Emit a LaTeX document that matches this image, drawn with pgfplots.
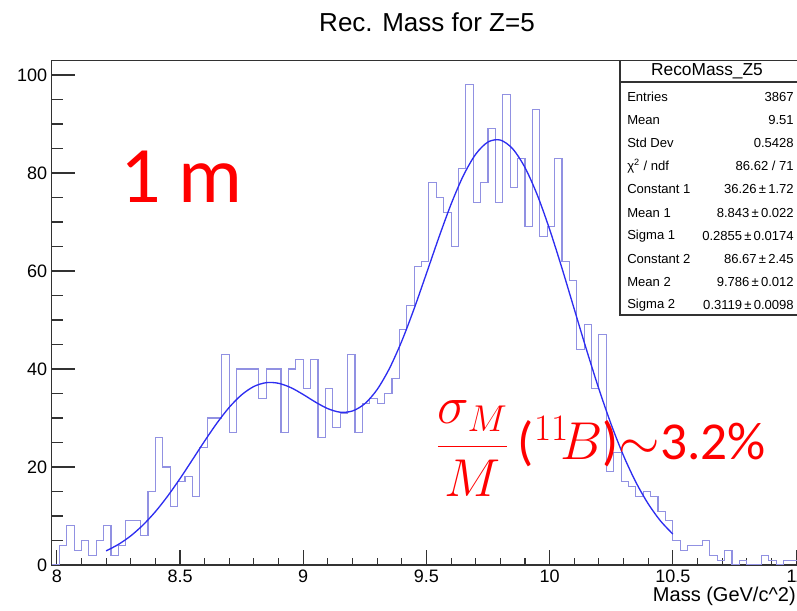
\documentclass[border=0pt]{standalone}
\usepackage{fix-cm}
\usepackage{amsmath}
\usepackage{fontspec}
\setmainfont{Liberation Sans}
\newfontfamily\calibri{Carlito}
\usepackage{pgfplots}
\pgfplotsset{compat=1.18}
\definecolor{histc}{RGB}{145,145,226}
\definecolor{fitc}{RGB}{45,45,240}
\definecolor{framec}{RGB}{50,50,50}
\begin{document}
\begin{tikzpicture}
\begin{axis}[
  scale only axis, width=565.5pt, height=378.15pt,
  xmin=7.98, xmax=11.04, ymin=0, ymax=102.9,
  axis line style={framec, line width=0.8pt},
  tick align=inside,
  xtick={8,8.5,9,9.5,10,10.5,11}, xticklabels={8,8.5,9,9.5,10,10.5,11},
  minor x tick num=4,
  ytick={0,20,40,60,80,100}, minor y tick num=3,
  xtick pos=left, ytick pos=left,
  xtick style={framec, line width=0.8pt, /pgfplots/major tick length=11.25pt, /pgfplots/minor tick length=5.6pt},
  ytick style={framec, line width=0.8pt, /pgfplots/major tick length=17pt, /pgfplots/minor tick length=8.5pt},
  tick label style={font=\fontsize{13.5}{15}\selectfont},
  /pgf/number format/assume math mode=true,
]
\addplot[const plot, histc, line width=0.85pt] coordinates {
(7.98,0) (8.01,4) (8.04,8) (8.07,3) (8.10,5) (8.13,2) (8.16,5) (8.19,8) (8.22,2) (8.25,4)
(8.28,9) (8.31,9) (8.34,6) (8.37,15) (8.40,26) (8.43,20) (8.46,12) (8.49,17) (8.52,18) (8.55,14)
(8.58,24) (8.61,30) (8.64,30) (8.67,43) (8.70,27) (8.73,40) (8.76,40) (8.79,40) (8.82,34) (8.85,40)
(8.88,40) (8.91,27) (8.94,40) (8.97,42) (9.00,36) (9.03,42) (9.06,26) (9.09,36) (9.12,28) (9.15,31)
(9.18,43) (9.21,27) (9.24,33) (9.27,34) (9.30,33) (9.33,35) (9.36,38) (9.39,48) (9.42,53) (9.45,61)
(9.48,62) (9.51,78) (9.54,75) (9.57,72) (9.60,65) (9.63,81) (9.66,98) (9.69,74) (9.72,78) (9.75,89)
(9.78,74) (9.81,96) (9.84,77) (9.87,83) (9.90,69) (9.93,93) (9.96,67) (9.99,69) (10.02,83) (10.05,62)
(10.08,58) (10.11,44) (10.14,49) (10.17,36) (10.20,47) (10.23,19) (10.26,23) (10.29,17) (10.32,16) (10.35,14)
(10.38,15) (10.41,14) (10.44,11) (10.47,9) (10.50,5) (10.53,3) (10.56,4) (10.59,4) (10.62,5) (10.65,2)
(10.68,1) (10.71,3) (10.74,0) (10.77,1) (10.80,0) (10.83,0) (10.86,2) (10.89,1) (10.92,0) (10.95,1)
(10.98,1) (11.01,0) (11.04,0)
};
\addplot[smooth, fitc, line width=1.0pt] coordinates {
(8.20,2.87) (8.25,4.20) (8.30,5.94) (8.35,8.17) (8.40,10.88) (8.45,14.07) (8.50,17.64) (8.55,21.45)
(8.60,25.31) (8.65,28.97) (8.70,32.19) (8.75,34.73) (8.80,36.44) (8.85,37.21) (8.90,37.08) (8.95,36.19)
(9.00,34.79) (9.05,33.23) (9.10,31.90) (9.15,31.18) (9.20,31.43) (9.25,32.92) (9.30,35.81) (9.35,40.12)
(9.40,45.70) (9.45,52.30) (9.50,59.49) (9.55,66.78) (9.60,73.63) (9.65,79.48) (9.70,83.84) (9.75,86.33)
(9.80,86.72) (9.85,84.94) (9.90,81.11) (9.95,75.50) (10.00,68.49) (10.05,60.58) (10.10,52.21) (10.15,43.87)
(10.20,35.91) (10.25,28.66) (10.30,22.29) (10.35,16.90) (10.40,12.49) (10.45,8.99) (10.50,6.31)
};
\coordinate (bbSW) at (axis cs:7.76936,-9.3878);
\coordinate (bbNE) at (axis cs:11.00393,115.3061);
\end{axis}
\begin{scope}[shift={(bbSW)}, x=0.75pt, y=0.75pt]
% stats box
\draw[framec, line width=0.8pt, fill=white] (620,296) rectangle (805,550.2);
\draw[framec, line width=0.8pt] (620,529) -- (805,529);
\node[anchor=center, inner sep=0] at (707,539.3) {\fontsize{13}{15}\selectfont RecoMass\_Z5};
\begin{scope}[every node/.style={inner sep=0, font=\fontsize{9.8}{11}\selectfont}]
\node[anchor=west] at (627,514.3) {Entries};      \node[anchor=east] at (794,514.3) {3867};
\node[anchor=west] at (627,491.1) {Mean};         \node[anchor=east] at (794,491.1) {9.51};
\node[anchor=west] at (627,467.9) {Std Dev};      \node[anchor=east] at (794,467.9) {0.5428};
\node[anchor=west] at (627,444.7) {χ\textsuperscript{2} / ndf}; \node[anchor=east] at (794,444.7) {86.62 / 71};
\node[anchor=west] at (627,421.5) {Constant 1};   \node[anchor=east] at (794,421.5) {36.26\,±\,1.72};
\node[anchor=west] at (627,398.3) {Mean 1};       \node[anchor=east] at (794,398.3) {8.843\,±\,0.022};
\node[anchor=west] at (627,375.1) {Sigma 1};      \node[anchor=east] at (794,375.1) {0.2855\,±\,0.0174};
\node[anchor=west] at (627,351.9) {Constant 2};   \node[anchor=east] at (794,351.9) {86.67\,±\,2.45};
\node[anchor=west] at (627,328.7) {Mean 2};       \node[anchor=east] at (794,328.7) {9.786\,±\,0.012};
\node[anchor=west] at (627,305.5) {Sigma 2};      \node[anchor=east] at (794,305.5) {0.3119\,±\,0.0098};
\end{scope}
% title and labels
\node[anchor=base, inner sep=0] at (427,579.5) {\fontsize{19.5}{22}\selectfont Rec. Mass for Z=5};
\node[anchor=base east, inner sep=0] at (796,9) {\fontsize{15}{17}\selectfont Mass (GeV/c\textasciicircum 2)};
\node[anchor=base west, inner sep=0, text=red] at (120,408) {\calibri\fontsize{60}{70}\selectfont 1 m};
\node[anchor=base west, inner sep=0, text=red] at (436,151) {\fontsize{40}{48}\selectfont $\dfrac{\sigma_M}{M}$\,\calibri(${}^{11}\!B$)$\sim$3.2\%};
\end{scope}
\pgfresetboundingbox
\path[use as bounding box] (bbSW) rectangle (bbNE);
\end{tikzpicture}
\end{document}
